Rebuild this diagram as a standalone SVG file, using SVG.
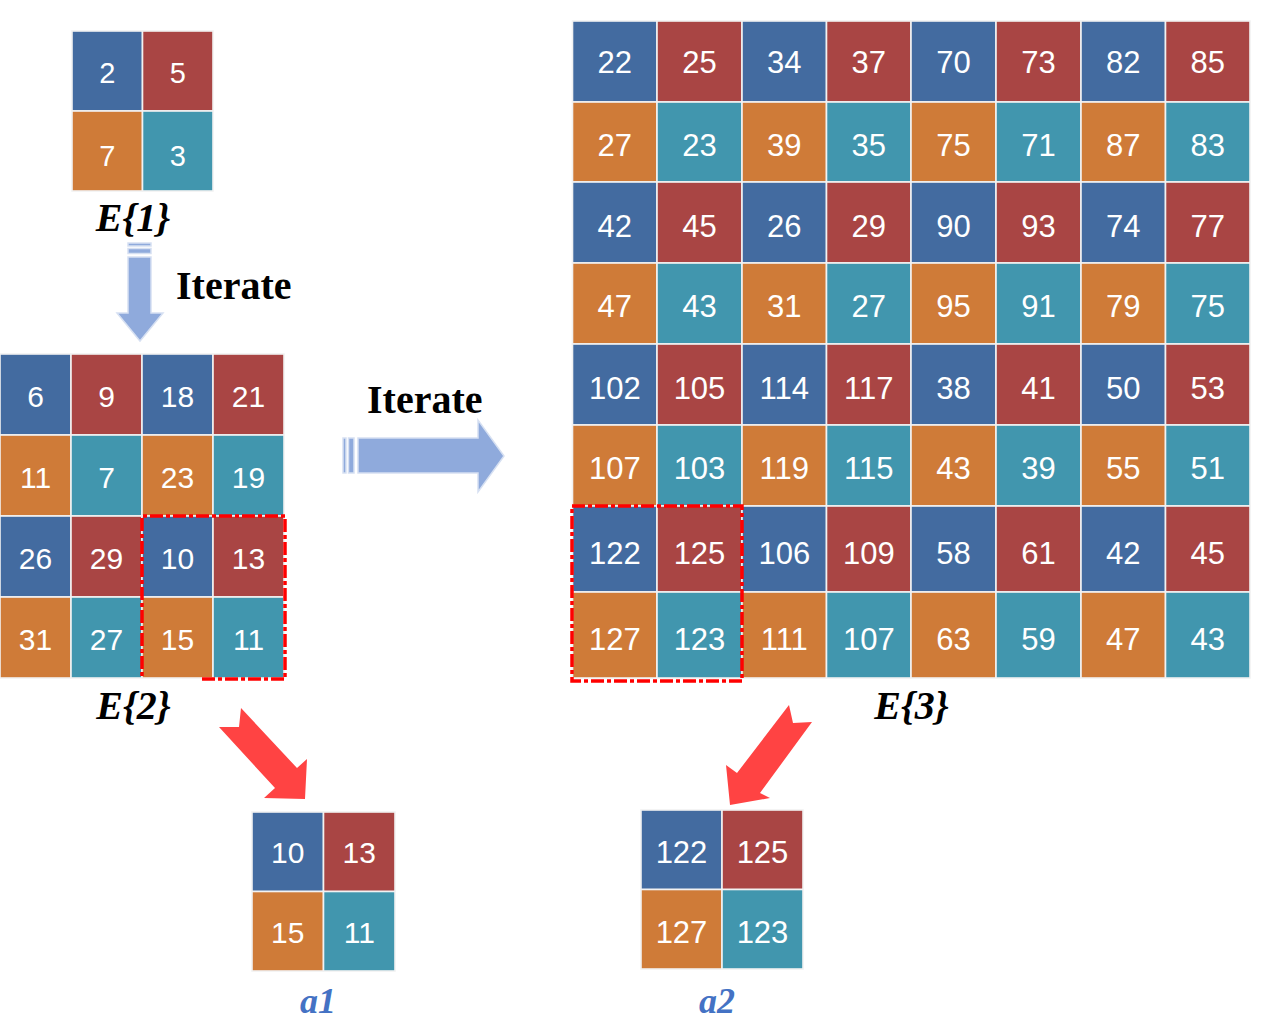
<svg xmlns="http://www.w3.org/2000/svg" width="1267" height="1021" viewBox="0 0 1267 1021">
<style>
.b{fill:#436BA0;stroke:#F2F2F2;stroke-width:1.6}
.r{fill:#A94544;stroke:#F2F2F2;stroke-width:1.6}
.o{fill:#CF7B38;stroke:#F2F2F2;stroke-width:1.6}
.t{fill:#4196AE;stroke:#F2F2F2;stroke-width:1.6}
text.n{fill:#fff;font-family:"Liberation Sans","Open Sans",sans-serif;text-anchor:middle}
.n1{font-size:29px}.n2{font-size:30px}.n3{font-size:31px}.na{font-size:30px}
.lbl{font-family:"Liberation Serif","Times New Roman",serif;font-weight:bold;font-style:italic;font-size:40px;fill:#000;text-anchor:middle}
.albl{font-family:"Liberation Serif","Times New Roman",serif;font-weight:bold;font-style:italic;font-size:36px;fill:#4472C4;text-anchor:middle}
.it{font-family:"Liberation Serif","Times New Roman",serif;font-weight:bold;font-size:40px;fill:#000}
.dash{fill:none;stroke:#FF0000;stroke-width:3.5;stroke-dasharray:13 3 4 3}
.blu{fill:#8FAADC;stroke:#D6E0F2;stroke-width:1.5}
.red{fill:#FF4343}
</style>
<rect width="1267" height="1021" fill="#fff"/>

<g id="E1">
<rect class="b" x="72" y="31" width="70.5" height="80"/><rect class="r" x="142.5" y="31" width="70.5" height="80"/>
<rect class="o" x="72" y="111" width="70.5" height="80"/><rect class="t" x="142.5" y="111" width="70.5" height="80"/>
<text class="n n1" x="107.3" y="83">2</text><text class="n n1" x="177.8" y="83">5</text>
<text class="n n1" x="107.3" y="166">7</text><text class="n n1" x="177.8" y="166">3</text>
<text class="lbl" x="133" y="231">E{1}</text>
</g>

<g id="E2">
<rect class="b" x="0" y="354" width="71" height="81"/><rect class="r" x="71" y="354" width="71" height="81"/><rect class="b" x="142" y="354" width="71" height="81"/><rect class="r" x="213" y="354" width="71" height="81"/>
<rect class="o" x="0" y="435" width="71" height="81"/><rect class="t" x="71" y="435" width="71" height="81"/><rect class="o" x="142" y="435" width="71" height="81"/><rect class="t" x="213" y="435" width="71" height="81"/>
<rect class="b" x="0" y="516" width="71" height="81"/><rect class="r" x="71" y="516" width="71" height="81"/><rect class="b" x="142" y="516" width="71" height="81"/><rect class="r" x="213" y="516" width="71" height="81"/>
<rect class="o" x="0" y="597" width="71" height="81"/><rect class="t" x="71" y="597" width="71" height="81"/><rect class="o" x="142" y="597" width="71" height="81"/><rect class="t" x="213" y="597" width="71" height="81"/>
<text class="n n2" x="35.5" y="407">6</text><text class="n n2" x="106.5" y="407">9</text><text class="n n2" x="177.5" y="407">18</text><text class="n n2" x="248.5" y="407">21</text>
<text class="n n2" x="35.5" y="488">11</text><text class="n n2" x="106.5" y="488">7</text><text class="n n2" x="177.5" y="488">23</text><text class="n n2" x="248.5" y="488">19</text>
<text class="n n2" x="35.5" y="569">26</text><text class="n n2" x="106.5" y="569">29</text><text class="n n2" x="177.5" y="569">10</text><text class="n n2" x="248.5" y="569">13</text>
<text class="n n2" x="35.5" y="650">31</text><text class="n n2" x="106.5" y="650">27</text><text class="n n2" x="177.5" y="650">15</text><text class="n n2" x="248.5" y="650">11</text>
<path class="dash" d="M202,679 H285 V516 H142 V679"/>
<text class="lbl" x="133.5" y="719">E{2}</text>
</g>

<g id="E3">
<rect class="b" x="572.5" y="21" width="84.5" height="81"/><rect class="r" x="657" y="21" width="85" height="81"/><rect class="b" x="742" y="21" width="84.5" height="81"/><rect class="r" x="826.5" y="21" width="84.5" height="81"/><rect class="b" x="911" y="21" width="85" height="81"/><rect class="r" x="996" y="21" width="85" height="81"/><rect class="b" x="1081" y="21" width="84.5" height="81"/><rect class="r" x="1165.5" y="21" width="84.5" height="81"/>
<rect class="o" x="572.5" y="102" width="84.5" height="80"/><rect class="t" x="657" y="102" width="85" height="80"/><rect class="o" x="742" y="102" width="84.5" height="80"/><rect class="t" x="826.5" y="102" width="84.5" height="80"/><rect class="o" x="911" y="102" width="85" height="80"/><rect class="t" x="996" y="102" width="85" height="80"/><rect class="o" x="1081" y="102" width="84.5" height="80"/><rect class="t" x="1165.5" y="102" width="84.5" height="80"/>
<rect class="b" x="572.5" y="182" width="84.5" height="81"/><rect class="r" x="657" y="182" width="85" height="81"/><rect class="b" x="742" y="182" width="84.5" height="81"/><rect class="r" x="826.5" y="182" width="84.5" height="81"/><rect class="b" x="911" y="182" width="85" height="81"/><rect class="r" x="996" y="182" width="85" height="81"/><rect class="b" x="1081" y="182" width="84.5" height="81"/><rect class="r" x="1165.5" y="182" width="84.5" height="81"/>
<rect class="o" x="572.5" y="263" width="84.5" height="81"/><rect class="t" x="657" y="263" width="85" height="81"/><rect class="o" x="742" y="263" width="84.5" height="81"/><rect class="t" x="826.5" y="263" width="84.5" height="81"/><rect class="o" x="911" y="263" width="85" height="81"/><rect class="t" x="996" y="263" width="85" height="81"/><rect class="o" x="1081" y="263" width="84.5" height="81"/><rect class="t" x="1165.5" y="263" width="84.5" height="81"/>
<rect class="b" x="572.5" y="344" width="84.5" height="81"/><rect class="r" x="657" y="344" width="85" height="81"/><rect class="b" x="742" y="344" width="84.5" height="81"/><rect class="r" x="826.5" y="344" width="84.5" height="81"/><rect class="b" x="911" y="344" width="85" height="81"/><rect class="r" x="996" y="344" width="85" height="81"/><rect class="b" x="1081" y="344" width="84.5" height="81"/><rect class="r" x="1165.5" y="344" width="84.5" height="81"/>
<rect class="o" x="572.5" y="425" width="84.5" height="81"/><rect class="t" x="657" y="425" width="85" height="81"/><rect class="o" x="742" y="425" width="84.5" height="81"/><rect class="t" x="826.5" y="425" width="84.5" height="81"/><rect class="o" x="911" y="425" width="85" height="81"/><rect class="t" x="996" y="425" width="85" height="81"/><rect class="o" x="1081" y="425" width="84.5" height="81"/><rect class="t" x="1165.5" y="425" width="84.5" height="81"/>
<rect class="b" x="572.5" y="506" width="84.5" height="86"/><rect class="r" x="657" y="506" width="85" height="86"/><rect class="b" x="742" y="506" width="84.5" height="86"/><rect class="r" x="826.5" y="506" width="84.5" height="86"/><rect class="b" x="911" y="506" width="85" height="86"/><rect class="r" x="996" y="506" width="85" height="86"/><rect class="b" x="1081" y="506" width="84.5" height="86"/><rect class="r" x="1165.5" y="506" width="84.5" height="86"/>
<rect class="o" x="572.5" y="592" width="84.5" height="86"/><rect class="t" x="657" y="592" width="85" height="86"/><rect class="o" x="742" y="592" width="84.5" height="86"/><rect class="t" x="826.5" y="592" width="84.5" height="86"/><rect class="o" x="911" y="592" width="85" height="86"/><rect class="t" x="996" y="592" width="85" height="86"/><rect class="o" x="1081" y="592" width="84.5" height="86"/><rect class="t" x="1165.5" y="592" width="84.5" height="86"/>

<text class="n n3" x="614.8" y="73">22</text><text class="n n3" x="699.5" y="73">25</text><text class="n n3" x="784.3" y="73">34</text><text class="n n3" x="868.8" y="73">37</text><text class="n n3" x="953.5" y="73">70</text><text class="n n3" x="1038.5" y="73">73</text><text class="n n3" x="1123.3" y="73">82</text><text class="n n3" x="1207.8" y="73">85</text>
<text class="n n3" x="614.8" y="155.5">27</text><text class="n n3" x="699.5" y="155.5">23</text><text class="n n3" x="784.3" y="155.5">39</text><text class="n n3" x="868.8" y="155.5">35</text><text class="n n3" x="953.5" y="155.5">75</text><text class="n n3" x="1038.5" y="155.5">71</text><text class="n n3" x="1123.3" y="155.5">87</text><text class="n n3" x="1207.8" y="155.5">83</text>
<text class="n n3" x="614.8" y="236.5">42</text><text class="n n3" x="699.5" y="236.5">45</text><text class="n n3" x="784.3" y="236.5">26</text><text class="n n3" x="868.8" y="236.5">29</text><text class="n n3" x="953.5" y="236.5">90</text><text class="n n3" x="1038.5" y="236.5">93</text><text class="n n3" x="1123.3" y="236.5">74</text><text class="n n3" x="1207.8" y="236.5">77</text>
<text class="n n3" x="614.8" y="317">47</text><text class="n n3" x="699.5" y="317">43</text><text class="n n3" x="784.3" y="317">31</text><text class="n n3" x="868.8" y="317">27</text><text class="n n3" x="953.5" y="317">95</text><text class="n n3" x="1038.5" y="317">91</text><text class="n n3" x="1123.3" y="317">79</text><text class="n n3" x="1207.8" y="317">75</text>
<text class="n n3" x="614.8" y="398.5">102</text><text class="n n3" x="699.5" y="398.5">105</text><text class="n n3" x="784.3" y="398.5">114</text><text class="n n3" x="868.8" y="398.5">117</text><text class="n n3" x="953.5" y="398.5">38</text><text class="n n3" x="1038.5" y="398.5">41</text><text class="n n3" x="1123.3" y="398.5">50</text><text class="n n3" x="1207.8" y="398.5">53</text>
<text class="n n3" x="614.8" y="479">107</text><text class="n n3" x="699.5" y="479">103</text><text class="n n3" x="784.3" y="479">119</text><text class="n n3" x="868.8" y="479">115</text><text class="n n3" x="953.5" y="479">43</text><text class="n n3" x="1038.5" y="479">39</text><text class="n n3" x="1123.3" y="479">55</text><text class="n n3" x="1207.8" y="479">51</text>
<text class="n n3" x="614.8" y="564">122</text><text class="n n3" x="699.5" y="564">125</text><text class="n n3" x="784.3" y="564">106</text><text class="n n3" x="868.8" y="564">109</text><text class="n n3" x="953.5" y="564">58</text><text class="n n3" x="1038.5" y="564">61</text><text class="n n3" x="1123.3" y="564">42</text><text class="n n3" x="1207.8" y="564">45</text>
<text class="n n3" x="614.8" y="650">127</text><text class="n n3" x="699.5" y="650">123</text><text class="n n3" x="784.3" y="650">111</text><text class="n n3" x="868.8" y="650">107</text><text class="n n3" x="953.5" y="650">63</text><text class="n n3" x="1038.5" y="650">59</text><text class="n n3" x="1123.3" y="650">47</text><text class="n n3" x="1207.8" y="650">43</text>
<rect class="dash" x="572" y="506" width="170" height="175"/>
<text class="lbl" x="911.5" y="719">E{3}</text>
</g>

<g id="a1">
<rect class="b" x="252" y="812" width="71.5" height="79.5"/><rect class="r" x="323.5" y="812" width="71.5" height="79.5"/>
<rect class="o" x="252" y="891.5" width="71.5" height="79.5"/><rect class="t" x="323.5" y="891.5" width="71.5" height="79.5"/>
<text class="n na" x="287.8" y="863">10</text><text class="n na" x="359.3" y="863">13</text>
<text class="n na" x="287.8" y="943">15</text><text class="n na" x="359.3" y="943">11</text>
<text class="albl" x="318" y="1013">a1</text>
</g>

<g id="a2">
<rect class="b" x="641" y="810" width="81" height="79.5"/><rect class="r" x="722" y="810" width="81" height="79.5"/>
<rect class="o" x="641" y="889.5" width="81" height="79.5"/><rect class="t" x="722" y="889.5" width="81" height="79.5"/>
<text class="n n3" x="681.5" y="863">122</text><text class="n n3" x="762.5" y="863">125</text>
<text class="n n3" x="681.5" y="943">127</text><text class="n n3" x="762.5" y="943">123</text>
<text class="albl" x="717" y="1013">a2</text>
</g>

<g id="connectors">
<g id="iterate-down">
<rect class="blu" x="128" y="243" width="23" height="3"/>
<rect class="blu" x="128" y="248.5" width="23" height="5"/>
<polygon class="blu" points="128,257 151,257 151,313 163,313 140,341 117,313 128,313"/>
<text class="it" x="176" y="299">Iterate</text>
</g>
<g id="iterate-right">
<rect class="blu" x="343" y="438" width="3" height="35"/>
<rect class="blu" x="348.5" y="438" width="5.5" height="35"/>
<polygon class="blu" points="358,438 478,438 478,420 504,456 478,492 478,473 358,473"/>
<text class="it" x="367" y="413">Iterate</text>
</g>
<polygon id="red-arrow-1" class="red" points="219,727 239,727 241,708 297,768 307,759 305,799 264,798 275,788"/>
<polygon id="red-arrow-2" class="red" points="789,705 793,723 812,722 760,793 770,798 730,805 726,765 737,773"/>
</g>
</svg>
